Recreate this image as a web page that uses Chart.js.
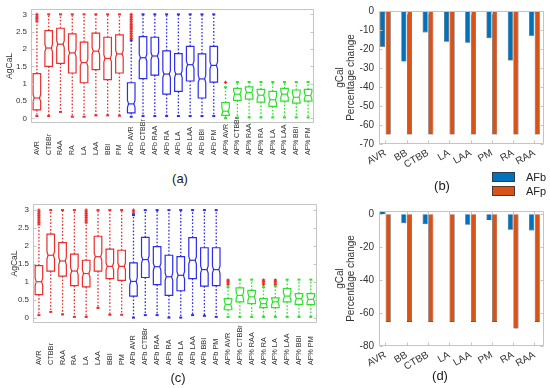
<!DOCTYPE html>
<html><head><meta charset="utf-8">
<script src="https://cdn.jsdelivr.net/npm/chart.js@4.4.1/dist/chart.umd.min.js"></script>
<style>
html,body{margin:0;padding:0;background:#fff;overflow:hidden;}
#wrap{position:relative;width:550px;height:388px;font-family:"Liberation Sans",Arial,sans-serif;}
#wrap canvas{position:absolute;}
.lab{position:absolute;font-size:13px;color:#1a1a1a;transform:translate(-50%,-50%);white-space:nowrap;}
</style></head><body>
<div id="wrap">
 <canvas id="cA" width="322" height="165" style="left:0;top:0"></canvas>
 <canvas id="cB" width="228" height="200" style="left:322px;top:0"></canvas>
 <canvas id="cC" width="322" height="175" style="left:0;top:195px"></canvas>
 <canvas id="cD" width="228" height="188" style="left:322px;top:200px"></canvas>
 <div class="lab" style="left:180px;top:178px">(a)</div>
 <div class="lab" style="left:442px;top:185px">(b)</div>
 <div class="lab" style="left:178px;top:377px">(c)</div>
 <div class="lab" style="left:440px;top:375px">(d)</div>
</div>
<script>
// ---------------- data ----------------
const boxLabels = ['AVR','CTBBr','RAA','RA','LA','LAA','BBI','PM',
  'AFb AVR','AFb CTBBr','AFb RAA','AFb RA','AFb LA','AFb LAA','AFb BBI','AFb PM',
  'AF% AVR','AF% CTBBr','AF% RAA','AF% RA','AF% LA','AF% LAA','AF% BBI','AF% PM'];
const boxYTicks = [0,0.5,1,1.5,2,2.5,3];

// panel (a)
const aQ1  = [0.25,1.50,1.59,1.31,1.03,1.41,1.12,1.31, 0.16,1.15,1.25,0.70,0.78,1.08,0.59,1.05, 0.09,0.52,0.56,0.47,0.35,0.50,0.44,0.50];
const aMed = [0.59,2.03,2.14,1.89,1.61,1.94,1.73,1.86, 0.42,1.75,1.80,1.28,1.28,1.55,1.14,1.53, 0.21,0.70,0.75,0.67,0.54,0.70,0.61,0.66];
const aQ3  = [1.29,2.53,2.60,2.44,2.20,2.46,2.34,2.41, 1.03,2.36,2.34,1.95,1.87,2.08,1.86,2.08, 0.46,0.87,0.91,0.84,0.78,0.87,0.82,0.84];
const aLo  = [0.07,0.07,0.19,0.05,0.05,0.09,0.09,0.08, 0.05,0.07,0.07,0.07,0.07,0.07,0.07,0.07, 0.01,0.03,0.03,0.03,0.03,0.03,0.03,0.03];
const aHi  = [2.80,3.00,3.00,3.00,3.00,3.00,3.00,3.00, 2.25,3.00,3.00,3.00,3.00,3.00,3.00,3.00, 0.90,1.05,1.05,1.05,1.05,1.05,1.05,1.05];
const aOutliers = [['AVR',2.86],['AVR',2.9],['AVR',2.95],['AVR',3.0],
  ['AFb AVR',2.3],['AFb AVR',2.35],['AFb AVR',2.4],['AFb AVR',2.45],['AFb AVR',2.5],['AFb AVR',2.55],['AFb AVR',2.6],
  ['AFb AVR',2.65],['AFb AVR',2.7],['AFb AVR',2.75],['AFb AVR',2.8],['AFb AVR',2.85],['AFb AVR',2.9],['AFb AVR',2.95],['AFb AVR',3.0],
  ['AF% AVR',1.04]];

// panel (c)
const cQ1  = [0.64,1.30,1.16,0.89,0.86,1.30,1.09,1.04, 0.60,1.12,0.92,0.62,0.75,1.09,0.88,0.89, 0.22,0.44,0.39,0.28,0.28,0.44,0.37,0.36];
const cMed = [1.00,1.74,1.58,1.30,1.23,1.70,1.43,1.43, 1.01,1.62,1.42,1.14,1.18,1.60,1.34,1.34, 0.37,0.62,0.58,0.39,0.44,0.60,0.53,0.51];
const cQ3  = [1.45,2.33,2.09,1.77,1.60,2.27,1.91,1.88, 1.53,2.24,1.98,1.74,1.70,2.23,1.95,1.95, 0.53,0.83,0.76,0.53,0.55,0.81,0.67,0.67];
const cLo  = [0.07,0.16,0.09,0.02,0.02,0.27,0.08,0.08, 0.00,0.07,0.07,0.00,0.00,0.07,0.05,0.02, 0.02,0.02,0.02,0.02,0.02,0.02,0.02,0.02];
const cHi  = [2.60,3.00,3.00,3.00,2.65,3.00,3.00,3.00, 2.86,3.00,3.00,3.00,3.00,3.00,3.00,3.00, 0.85,1.06,1.06,0.85,0.88,1.06,1.06,1.06];
const cOutliers = [['AVR',2.65],['AVR',2.7],['AVR',2.75],['AVR',2.8],['AVR',2.85],['AVR',2.9],['AVR',2.95],['AVR',3.0],
  ['LA',2.7],['LA',2.75],['LA',2.8],['LA',2.85],['LA',2.9],['LA',2.95],['LA',3.0],
  ['AFb AVR',2.9],['AFb AVR',2.95],['AFb AVR',3.0],
  ['AF% AVR',0.93],['AF% AVR',0.97],['AF% AVR',1.01],['AF% AVR',1.05],
  ['AF% RA',0.93],['AF% RA',0.97],['AF% RA',1.01],['AF% RA',1.05],
  ['AF% LA',0.93],['AF% LA',0.97],['AF% LA',1.01],['AF% LA',1.05]];

// panels (b) and (d)
const barCats = ['AVR','BB','CTBB','LA','LAA','PM','RA','RAA'];
const bYTicks = [0,-10,-20,-30,-40,-50,-60,-70];
const bAFb = [-18.8,-26.6,-11.3,-16.2,-16.7,-14.3,-26.1,-13.0];
const bAFp = [-65,-65,-65,-65,-65,-65,-65,-65];
const dYTicks = [0,-20,-40,-60,-80];
const dAFb = [2,-5.4,-6.0,0,-6.4,-3.4,-9.4,-9.8];
const dAFp = [-65.4,-65.4,-65.4,-65.4,-65.4,-65.4,-69.4,-65.4];

// ---------------- style ----------------
const FONT = '"Liberation Sans", Arial, sans-serif';
Chart.defaults.font.family = FONT;
Chart.defaults.color = '#333';
const RED='rgb(235,45,45)', BLUE='rgb(45,45,235)', GREEN='rgb(45,225,45)';
const groupColor = i => i<8 ? RED : (i<16 ? BLUE : GREEN);

const frame = { id:'frame', afterDraw(chart, args, opts){
  const {ctx, chartArea:a} = chart;
  const l=Math.round(a.left)+0.5, r=Math.round(a.right)-0.5, t=Math.round(a.top)+0.5, b=Math.round(a.bottom)-0.5;
  ctx.save(); ctx.strokeStyle=opts.color||'#c0c0c0'; ctx.lineWidth=1; ctx.setLineDash([]);
  ctx.beginPath(); ctx.rect(l,t,r-l,b-t); ctx.stroke();
  const ys=chart.scales.y; ctx.beginPath();
  ys.ticks.forEach(tk=>{ const y=Math.round(ys.getPixelForValue(tk.value))+0.5;
    ctx.moveTo(l,y); ctx.lineTo(l+3,y); ctx.moveTo(r,y); ctx.lineTo(r-3,y); });
  if (opts.xTicks) { const xs=chart.scales.x; xs.ticks.forEach(tk=>{ const x=Math.round(xs.getPixelForValue(tk.value))+0.5;
    ctx.moveTo(x,t); ctx.lineTo(x,t+3); ctx.moveTo(x,b); ctx.lineTo(x,b-3); }); }
  ctx.stroke(); ctx.restore();
}};

const boxDraw = { id:'boxDraw', afterDatasetsDraw(chart, args, opts){
  const ds = chart.data.datasets[0], meta = chart.getDatasetMeta(0), ys = chart.scales.y, ctx = chart.ctx;
  ctx.save();
  meta.data.forEach((el,i)=>{
    const col = groupColor(i);
    const cx = el.x, hw = el.width/2;
    const yq1 = ys.getPixelForValue(ds.data[i][0]), yq3 = ys.getPixelForValue(ds.data[i][1]);
    const ym = ys.getPixelForValue(ds.medians[i]);
    const ylo = ys.getPixelForValue(ds.lows[i]), yhi = ys.getPixelForValue(ds.highs[i]);
    let nh = Math.abs(ys.getPixelForValue(0) - ys.getPixelForValue(opts.notch));
    nh = Math.max(0, Math.min(nh, yq1 - ym, ym - yq3));
    const ind = hw*0.3;
    ctx.strokeStyle = col; ctx.lineWidth = 1.2; ctx.setLineDash([]);
    ctx.beginPath();
    ctx.moveTo(cx-hw, yq3); ctx.lineTo(cx+hw, yq3); ctx.lineTo(cx+hw, ym-nh); ctx.lineTo(cx+hw-ind, ym);
    ctx.lineTo(cx+hw, ym+nh); ctx.lineTo(cx+hw, yq1); ctx.lineTo(cx-hw, yq1); ctx.lineTo(cx-hw, ym+nh);
    ctx.lineTo(cx-hw+ind, ym); ctx.lineTo(cx-hw, ym-nh); ctx.closePath(); ctx.stroke();
    ctx.beginPath(); ctx.moveTo(cx-hw+ind, ym); ctx.lineTo(cx+hw-ind, ym); ctx.stroke();
    ctx.setLineDash([1.6,1.8]); ctx.lineWidth = 1.3;
    ctx.beginPath(); ctx.moveTo(cx, yq3); ctx.lineTo(cx, yhi); ctx.moveTo(cx, yq1); ctx.lineTo(cx, ylo); ctx.stroke();
    ctx.setLineDash([]);
    ctx.fillStyle = col; ctx.fillRect(cx-1.5, yhi-1, 3, 2); ctx.fillRect(cx-1.5, ylo-1, 3, 2);
  });
  ctx.restore();
}};

const catLabels = { id:'catLabels', afterDraw(chart, args, opts){
  const xs=chart.scales.x, ctx=chart.ctx;
  ctx.save(); ctx.font = opts.size+'px '+FONT; ctx.fillStyle='#333'; ctx.textAlign='left'; ctx.textBaseline='middle';
  chart.data.labels.forEach((lab,i)=>{ ctx.save(); ctx.translate(xs.getPixelForValue(i), opts.bottom); ctx.rotate(-Math.PI/2); ctx.fillText(lab,0,0); ctx.restore(); });
  ctx.restore();
}};

const legendBox = { id:'legendBox', afterDraw(chart, args, opts){
  if (!opts || !opts.show) return;
  const ctx = chart.ctx; ctx.save();
  chart.data.datasets.forEach((ds,k)=>{
    const y = opts.y + k*opts.dy;
    ctx.fillStyle = ds.backgroundColor; ctx.fillRect(opts.x, y, opts.w, opts.h);
    ctx.strokeStyle = '#333'; ctx.lineWidth = 0.8; ctx.strokeRect(opts.x+0.5, y+0.5, opts.w-1, opts.h-1);
    ctx.fillStyle = '#222'; ctx.font = '11px '+FONT; ctx.textBaseline = 'middle'; ctx.textAlign='left';
    ctx.fillText(ds.label, opts.tx, y+opts.h/2+0.5);
  });
  ctx.restore();
}};

function boxChart(id, o){
  return new Chart(document.getElementById(id), {
    type:'bar',
    data:{ labels: boxLabels, datasets:[
      { label:'boxes', data:o.q1.map((v,i)=>[v,o.q3[i]]), medians:o.med, lows:o.lo, highs:o.hi,
        backgroundColor:'rgba(0,0,0,0)', borderWidth:0, categoryPercentage:1, barPercentage:0.64 },
      { type:'scatter', label:'outliers', data:o.out.map(p=>({x:p[0],y:p[1]})), showLine:false,
        pointStyle:'cross', pointRadius:1.6, pointBorderWidth:1.3, borderColor:RED, backgroundColor:RED,
        pointBorderColor:RED, pointBackgroundColor:RED }
    ]},
    options:{ responsive:false, animation:false, events:[],
      layout:{padding:o.pad},
      plugins:{ legend:{display:false}, tooltip:{enabled:false},
        boxDraw:{notch:0.1}, frame:{color:'#c4c4c4', xTicks:false}, catLabels:{bottom:o.labBottom, size:o.labSize} },
      scales:{
        x:{type:'category', display:false, offset:true},
        y:{type:'linear', min:o.min, max:o.max,
           afterBuildTicks:ax=>{ ax.ticks = boxYTicks.map(v=>({value:v})); },
           afterFit:ax=>{ ax.width = o.yw; },
           grid:{display:false, drawTicks:false}, border:{display:false},
           ticks:{font:{size:8}, color:'#333', padding:4, callback:v=>String(v)},
           title:{display:true, text:'AgCaL', font:{size:8.5}, color:'#333', padding:{top:o.titlePad, bottom:0}} }
      }
    },
    plugins:[boxDraw, frame, catLabels]
  });
}

function barChart(id, o){
  return new Chart(document.getElementById(id), {
    type:'bar',
    data:{ datasets:[
      { label:'AFb', data:o.afb.map((v,i)=>({x:i+1, y:v})), backgroundColor:'#0072BD', borderColor:'#2a2a2a', borderWidth:0.6 },
      { label:'AFp', data:o.afp.map((v,i)=>({x:i+1, y:v})), backgroundColor:'#D95319', borderColor:'#2a2a2a', borderWidth:0.6 }
    ]},
    options:{ responsive:false, animation:false, events:[],
      layout:{padding:o.pad},
      datasets:{ bar:{ categoryPercentage:0.53, barPercentage:0.9 } },
      plugins:{ legend:{display:false}, tooltip:{enabled:false}, frame:{color:'#c4c4c4', xTicks:true}, legendBox:o.legend },
      scales:{
        x:{type:'linear', min:0.7, max:8.45, offset:false,
           afterBuildTicks:ax=>{ ax.ticks = barCats.map((c,i)=>({value:i+1})); },
           afterFit:ax=>{ ax.height = o.xh; },
           grid:{display:false, drawTicks:false, offset:false}, border:{display:false},
           ticks:{autoSkip:false, minRotation:30, maxRotation:30, font:{size:10}, color:'#333', padding:3,
                  callback:v=>barCats[v-1]} },
        y:{type:'linear', min:o.min, max:o.max,
           afterBuildTicks:ax=>{ ax.ticks = o.ticks.map(v=>({value:v})); },
           afterFit:ax=>{ ax.width = 57; },
           grid:{display:false, drawTicks:false}, border:{display:false},
           ticks:{font:{size:10}, color:'#333', padding:5, callback:v=>String(v)},
           title:{display:true, text:['gCal','Percentage change'], font:{size:10, lineHeight:1.17}, color:'#333',
                  padding:{top:12, bottom:0}} }
      }
    },
    plugins:[frame, legendBox]
  });
}

boxChart('cA', {q1:aQ1, med:aMed, q3:aQ3, lo:aLo, hi:aHi, out:aOutliers, min:-0.13, max:3.16,
  pad:{left:0, right:8, top:6, bottom:42}, yw:31, titlePad:5, labBottom:155, labSize:7});
boxChart('cC', {q1:cQ1, med:cMed, q3:cQ3, lo:cLo, hi:cHi, out:cOutliers, min:-0.15, max:3.17,
  pad:{left:0, right:2, top:9, bottom:47}, yw:33, titlePad:10, labBottom:170, labSize:7.3});
barChart('cB', {afb:bAFb, afp:bAFp, ticks:bYTicks, min:-70, max:0, pad:{left:0, right:6, top:7, bottom:0}, xh:56,
  legend:{show:true, x:170, y:172, w:23, h:10, dy:14, tx:204}});
barChart('cD', {afb:dAFb, afp:dAFp, ticks:dYTicks, min:-80, max:2, pad:{left:0, right:6, top:9, bottom:0}, xh:42,
  legend:{show:false}});
</script>
</body></html>
